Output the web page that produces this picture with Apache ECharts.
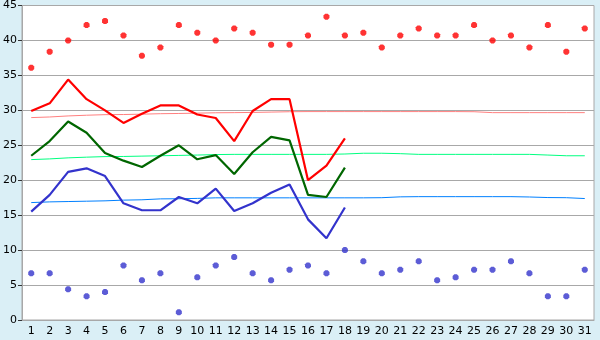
<!DOCTYPE html>
<html>
<head>
<meta charset="utf-8">
<script src="https://cdn.jsdelivr.net/npm/echarts@6/dist/echarts.min.js"></script>
<style>
html,body{margin:0;padding:0;background:#daeff6;}
#c{width:600px;height:340px;}
</style>
</head>
<body>
<div id="c"></div>
<script>
var days = [];
for (var i = 1; i <= 31; i++) days.push(String(i));

var maxRecord = [36.1,38.4,40.0,42.2,42.8,40.7,37.8,39.0,42.2,41.1,40.0,41.7,41.1,39.4,39.4,40.7,43.4,40.7,41.1,39.0,40.7,41.7,40.7,40.7,42.2,40.0,40.7,39.0,42.2,38.4,41.7];
var minRecord = [6.7,6.7,4.4,3.4,4.0,7.8,5.7,6.7,1.1,6.1,7.8,9.0,6.7,5.7,7.2,7.8,6.7,10.0,8.4,6.7,7.2,8.4,5.7,6.1,7.2,7.2,8.4,6.7,3.4,3.4,7.2];

var highTemp = [29.9,31.0,34.4,31.6,30.0,28.2,29.5,30.7,30.7,29.4,28.9,25.6,29.9,31.6,31.6,20.0,22.1,26.0];
var meanTemp = [23.5,25.6,28.4,26.8,23.9,22.8,21.9,23.5,25.0,23.0,23.6,20.9,24.0,26.2,25.7,17.9,17.6,21.8];
var lowTemp  = [15.5,17.9,21.2,21.7,20.6,16.7,15.7,15.7,17.6,16.7,18.8,15.6,16.7,18.2,19.4,14.4,11.7,16.1];

var normalHigh = [28.96,29.05,29.2,29.3,29.38,29.4,29.45,29.52,29.55,29.6,29.65,29.67,29.7,29.75,29.8,29.82,29.82,29.82,29.82,29.82,29.82,29.82,29.82,29.82,29.8,29.67,29.67,29.67,29.67,29.67,29.67];
var normalMean = [22.95,23.05,23.2,23.3,23.38,23.4,23.45,23.5,23.55,23.6,23.67,23.7,23.7,23.7,23.7,23.7,23.7,23.75,23.86,23.86,23.8,23.7,23.7,23.7,23.7,23.7,23.7,23.7,23.6,23.5,23.5];
var normalLow  = [16.8,16.9,16.95,17.0,17.05,17.15,17.2,17.33,17.35,17.4,17.48,17.48,17.48,17.48,17.48,17.48,17.48,17.48,17.48,17.5,17.62,17.65,17.65,17.65,17.65,17.65,17.65,17.6,17.52,17.5,17.38];

var yTicks = [0,5,10,15,20,25,30,35,40,45];

var marker = 'path://M2,0H5L7,2V5L5,7H2L0,5V2Z';

var chart = echarts.init(document.getElementById('c'));
function lineS(data, color, w, z) {
  return {type:'line', data:data, symbol:'none', z:z,
    lineStyle:{color:color, width:w}, itemStyle:{color:color}, animation:false};
}
chart.setOption({
  backgroundColor:'#daeff6',
  animation:false,
  grid:{left:20, right:6, top:5, bottom:20, show:true, backgroundColor:'#ffffff', borderColor:'#a8a8a8', borderWidth:1},
  xAxis:{type:'category', data:days, boundaryGap:true,
    axisLine:{lineStyle:{color:'#a8a8a8', width:1}},
    axisTick:{alignWithLabel:true, length:5, lineStyle:{color:'#333'}, interval:0},
    axisLabel:{interval:0, color:'#000', fontFamily:'DejaVu Sans', fontSize:11, margin:6},
    splitLine:{show:false}},
  yAxis:{type:'value', min:yTicks[0], max:yTicks[yTicks.length-1], interval:5,
    axisLine:{show:true, lineStyle:{color:'#a8a8a8'}},
    axisTick:{show:true, length:4, lineStyle:{color:'#333'}},
    axisLabel:{color:'#000', fontFamily:'DejaVu Sans', fontSize:11, margin:5},
    splitLine:{lineStyle:{color:'#a8a8a8', width:1}}},
  series:[
    lineS(normalHigh, '#ff8080', 1, 2),
    lineS(normalMean, '#00ff80', 1, 2),
    lineS(normalLow, '#0080ff', 1, 2),
    lineS(highTemp, '#ff0000', 2.2, 3),
    lineS(meanTemp, '#006600', 2.2, 3),
    lineS(lowTemp, '#3333cc', 2.2, 3),
    {type:'scatter', data:maxRecord, symbol:marker, symbolSize:6, itemStyle:{color:'#ff0000'}, z:4},
    {type:'scatter', data:minRecord, symbol:marker, symbolSize:6, itemStyle:{color:'#3333cc'}, z:4}
  ]
});
</script>
</body>
</html>
